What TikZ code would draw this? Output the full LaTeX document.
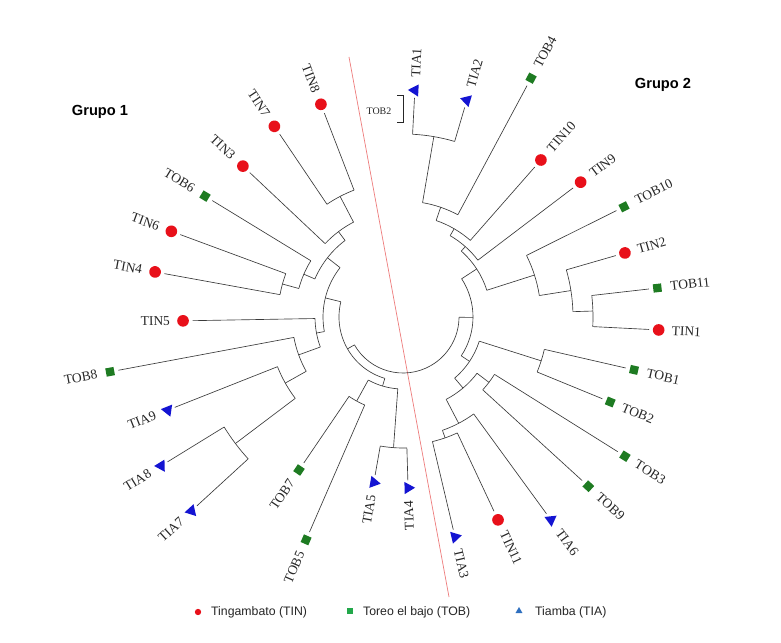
\documentclass[tikz,border=0pt]{standalone}
\usepackage{fontspec}
\setmainfont{Liberation Serif}
\newfontfamily\arialf{Liberation Sans}
\usetikzlibrary{shapes.geometric,calc}
\definecolor{tinred}{HTML}{E8101A}
\definecolor{tobgreen}{HTML}{1E7B22}
\definecolor{tiablue}{HTML}{1414D2}
\definecolor{brc}{HTML}{3A3A3A}
\definecolor{redline}{HTML}{EE7C7C}
\definecolor{leggreen}{HTML}{22A84A}
\definecolor{legblue}{HTML}{2E6FBF}
\newcommand{\dleaf}[6]{%
  \node[#2, rotate=#3] (m#1) at ($(C)+({#3}:{#4})$) {};
  \draw[br] ($(C)+({#3}:{#5})$) -- (m#1);
  \if R#6\relax
    \node[lab, anchor=west, rotate=#3] (#1) at ($(C)+({#3}:{#4+9})$) {#1};
  \else
    \node[lab, anchor=east, rotate=#3+180] (#1) at ($(C)+({#3}:{#4+9})$) {#1};
  \fi}
\newcommand{\dnode}[5]{%
  \coordinate (#1) at ($(C)+({#2}:{#3})$);
  \draw[br] ($(C)+({#4}:{#3})$) arc[start angle=#4, end angle=#5, radius=#3];}
\newcommand{\dstem}[3]{%
  \draw[br] (#1) -- ($(C)+({#2}:{#3})$);}
\begin{document}
\begin{tikzpicture}[x=0.3mm,y=0.3mm,
  br/.style={draw=brc, line width=0.55pt},
  tin/.style={circle, fill=tinred, minimum size=3.5mm, inner sep=0pt, outer sep=1.1mm},
  tob/.style={rectangle, fill=tobgreen, minimum size=2.5mm, inner sep=0pt, outer sep=1.3mm},
  tia/.style={regular polygon, regular polygon sides=3, fill=tiablue, minimum size=4.2mm, inner sep=0pt, outer sep=0.9mm},
  lab/.style={font=\fontsize{11.5}{13}\selectfont, text=black!85},
  grp/.style={font=\arialf\bfseries\fontsize{12.5}{14}\selectfont},
  leg/.style={font=\arialf\fontsize{10.5}{12}\selectfont, text=black!85, anchor=west}]
\useasboundingbox[fill=white] (0,0) rectangle (781,642);
\coordinate (C) at (403,325);
% red divider
\coordinate (rlA) at (349,585);
\coordinate (rlB) at (449,45);
\draw[redline, line width=0.6pt] (rlA) -- (rlB);
% ---- Group 2, upper
\dnode{n1}{80.3}{183}{73.6}{87.0}
\dnode{n2}{71.05}{116}{61.8}{80.3}  \dstem{n1}{80.3}{116}
\dnode{n3}{59.9}{102}{48.7}{71.05}  \dstem{n2}{71.05}{102}
\dnode{n4}{48.5}{94}{37.2}{59.9}    \dstem{n3}{59.9}{94}
\dnode{m1}{1.8}{190}{-2.9}{6.5}
\dnode{m2}{8.95}{170}{1.8}{16.1}    \dstem{m1}{1.8}{170}
\dnode{m3}{17.7}{138}{8.95}{26.5}   \dstem{m2}{8.95}{138}
\dnode{U}{33.1}{88}{17.7}{48.5}     \dstem{n4}{48.5}{88} \dstem{m3}{17.7}{88}
% ---- Group 2, lower
\dnode{b1}{-17.6}{145}{-22.3}{-12.9}
\dnode{c1}{-37.25}{108}{-42.4}{-32.1}
\dnode{c2}{-70.8}{128}{-76.7}{-64.9}
\dnode{c3}{-62.35}{120}{-70.8}{-53.9} \dstem{c2}{-70.8}{120}
\dnode{c4}{-49.8}{93}{-62.35}{-37.25} \dstem{c3}{-62.35}{93} \dstem{c1}{-37.25}{93}
\dnode{L}{-33.7}{80}{-49.8}{-17.6}    \dstem{c4}{-49.8}{80} \dstem{b1}{-17.6}{80}
\dnode{G2}{-0.3}{70}{-33.7}{33.1}     \dstem{L}{-33.7}{70} \dstem{U}{33.1}{70}
% ---- Group 1
\dnode{a1}{117.55}{136}{111.1}{124.0}
\dnode{a2}{127.1}{107}{117.55}{136.7} \dstem{a1}{117.55}{107}
\dnode{bb1}{164.7}{125}{159.7}{169.7}
\dnode{bb2}{156.65}{108}{148.6}{164.7} \dstem{bb1}{164.7}{108}
\dnode{UL}{141.9}{96}{127.1}{156.65}  \dstem{a2}{127.1}{96} \dstem{bb2}{156.65}{96}
\dnode{d1}{-142.95}{210}{-148.4}{-137.5}
\dnode{d2}{-150.7}{135}{-158.4}{-142.95} \dstem{d1}{-142.95}{135}
\dnode{d3}{-160.05}{111}{-169.4}{-150.7} \dstem{d2}{-150.7}{111}
\dnode{ML}{190.5}{88}{181.0}{199.95}  \dstem{d3}{199.95}{88}
\dnode{ULM}{166.2}{80}{141.9}{190.5}  \dstem{UL}{141.9}{80} \dstem{ML}{190.5}{80}
\dnode{t1}{-94.15}{131}{-100}{-88.3}
\dnode{f1}{-118.85}{96}{-124.2}{-113.5}
\dnode{B}{-106.5}{72}{-118.85}{-94.15} \dstem{t1}{-94.15}{72} \dstem{f1}{-118.85}{72}
\dnode{G1}{209.85}{64}{166.2}{253.5}  \dstem{ULM}{166.2}{64} \dstem{B}{253.5}{64}
\dnode{root}{-75}{56}{-150.15}{-0.3}  \dstem{G1}{-150.15}{56} \dstem{G2}{-0.3}{56}
% ---- leaves
\dleaf{TIA1}{tia}{87.0}{227}{183}{R}
\dleaf{TIA2}{tia}{73.6}{226}{183}{R}
\dleaf{TOB4}{tob}{61.8}{271}{116}{R}
\dleaf{TIN10}{tin}{48.7}{209}{102}{R}
\dleaf{TIN9}{tin}{37.2}{223}{94}{R}
\dleaf{TOB10}{tob}{26.5}{247}{138}{R}
\dleaf{TIN2}{tin}{16.1}{231}{170}{R}
\dleaf{TOB11}{tob}{6.5}{256}{190}{R}
\dleaf{TIN1}{tin}{-2.9}{256}{190}{R}
\dleaf{TOB1}{tob}{-12.9}{237}{145}{R}
\dleaf{TOB2}{tob}{-22.3}{224}{145}{R}
\dleaf{TOB3}{tob}{-32.1}{262}{108}{R}
\dleaf{TOB9}{tob}{-42.4}{251}{108}{R}
\dleaf{TIA6}{tia}{-53.9}{251}{120}{R}
\dleaf{TIN11}{tin}{-64.9}{224}{128}{R}
\dleaf{TIA3}{tia}{-76.7}{226}{128}{R}
\dleaf{TIA4}{tia}{-88.3}{171}{131}{L}
\dleaf{TIA5}{tia}{-100.0}{168}{131}{L}
\dleaf{TOB5}{tob}{-113.5}{243}{96}{L}
\dleaf{TOB7}{tob}{-124.2}{185}{96}{L}
\dleaf{TIA7}{tia}{-137.5}{287}{210}{L}
\dleaf{TIA8}{tia}{-148.4}{284}{210}{L}
\dleaf{TIA9}{tia}{-158.4}{253}{135}{L}
\dleaf{TOB8}{tob}{-169.4}{298}{111}{L}
\dleaf{TIN5}{tin}{181.0}{220}{88}{L}
\dleaf{TIN4}{tin}{169.7}{252}{125}{L}
\dleaf{TIN6}{tin}{159.7}{247}{125}{L}
\dleaf{TOB6}{tob}{148.6}{232}{108}{L}
\dleaf{TIN3}{tin}{136.7}{220}{107}{L}
\dleaf{TIN7}{tin}{124.0}{230}{136}{L}
\dleaf{TIN8}{tin}{111.1}{228}{136}{L}
% ---- annotation
\node[font=\fontsize{8.5}{10}\selectfont, text=black!85] (ann) at (379,531) {TOB2};
\coordinate (brA) at (397,547); \coordinate (brB) at (403,547);
\coordinate (brC) at (403,520); \coordinate (brD) at (397,520);
\draw[black!85, line width=0.7pt] (brA) -- (brB) -- (brC) -- (brD);
% ---- group titles
\node[grp] (g1) at (100,530) {Grupo 1};
\node[grp] (g2) at (663,557) {Grupo 2};
% ---- legend
\node[circle, fill=tinred, minimum size=1.9mm, inner sep=0pt] (lk1) at (198,30) {};
\node[leg] (lt1) at (207,30) {Tingambato (TIN)};
\node[rectangle, fill=leggreen, minimum size=1.8mm, inner sep=0pt] (lk2) at (350,31) {};
\node[leg] (lt2) at (359,30) {Toreo el bajo (TOB)};
\node[regular polygon, regular polygon sides=3, fill=legblue, minimum size=2.4mm, inner sep=0pt] (lk3) at (519,31) {};
\node[leg] (lt3) at (531,30) {Tiamba (TIA)};
\end{tikzpicture}
\end{document}
